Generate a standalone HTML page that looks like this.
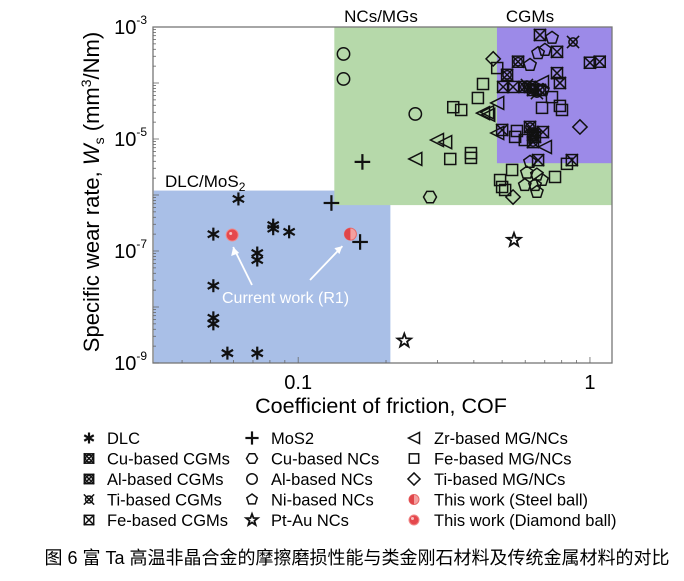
<!DOCTYPE html>
<html><head><meta charset="utf-8">
<style>
html,body{margin:0;padding:0;background:#fff;}
body{width:684px;height:581px;overflow:hidden;font-family:"Liberation Sans","Noto Sans CJK SC",sans-serif;}
svg{display:block;}
</style></head>
<body>
<svg id="chart" width="684" height="581" viewBox="0 0 684 581" xmlns="http://www.w3.org/2000/svg" font-family="Liberation Sans, Noto Sans CJK SC, sans-serif">
<g id="regions"></g>
<g id="axes"></g>
<g id="marks"></g>
<g id="legend"></g>
<text x="357" y="564" font-size="18" text-anchor="middle" font-family="Liberation Sans, Noto Sans CJK SC, sans-serif">图 6 富 Ta 高温非晶合金的摩擦磨损性能与类金刚石材料及传统金属材料的对比</text>
</svg>
<script>
// ---- data ----
const xTicks = [0.1, 1];
const xTickLabels = ["0.1", "1"];
const yTicks = [1e-9, 1e-7, 1e-5, 1e-3];
const yTickExps = ["-9", "-7", "-5", "-3"];
const regionNames = ["DLC/MoS2", "NCs/MGs", "CGMs"];
const regionX0 = [0.032, 0.133, 0.48];
const regionX1 = [0.207, 1.2, 1.2];
const regionY0 = [1e-9, 6.6e-7, 3.7e-6];
const regionY1 = [1.2e-6, 1e-3, 1e-3];

const dlcX = [0.0624, 0.0512, 0.0821, 0.0821, 0.0931, 0.0724, 0.0724, 0.0512, 0.0512, 0.0512, 0.0572, 0.0724];
const dlcY = [8.5e-7, 2.0e-7, 2.9e-7, 2.5e-7, 2.2e-7, 9.2e-8, 6.9e-8, 2.4e-8, 6.4e-9, 5.0e-9, 1.5e-9, 1.5e-9];
const mos2X = [0.166, 0.130, 0.163];
const mos2Y = [3.9e-6, 7.2e-7, 1.45e-7];
const cuNcX = [0.283];
const cuNcY = [9.2e-7];
const alNcX = [0.143, 0.143, 0.252];
const alNcY = [3.3e-4, 1.18e-4, 2.8e-5];
const niNcX = [0.741, 0.664, 0.701, 0.623, 0.690, 0.623, 0.608, 0.598, 0.658, 0.658, 0.648, 0.685];
const niNcY = [6.4e-4, 3.4e-4, 3.9e-4, 2.1e-4, 7.5e-5, 3.9e-6, 2.5e-6, 1.5e-6, 2.3e-6, 1.13e-6, 1.5e-6, 1.85e-6];
const ptAuX = [0.231, 0.549];
const ptAuY = [2.5e-9, 1.57e-7];
const zrX = [0.252, 0.299, 0.319, 0.430, 0.444, 0.481, 0.481, 0.701, 0.685, 0.448];
const zrY = [4.4e-6, 9.6e-6, 8.8e-6, 2.9e-5, 3.0e-5, 4.4e-5, 1.28e-5, 7.2e-6, 1.04e-4, 2.7e-5];
const feMgX = [0.430, 0.413, 0.340, 0.362, 0.332, 0.391, 0.391, 0.481, 0.541, 0.492, 0.500, 0.512, 0.562, 0.554, 0.685, 0.741, 0.789, 0.802, 0.759, 0.834, 0.598];
const feMgY = [9.6e-5, 5.4e-5, 3.7e-5, 3.3e-5, 4.4e-6, 5.6e-6, 4.6e-6, 1.85e-4, 2.8e-6, 1.85e-6, 1.39e-6, 1.23e-6, 1.39e-5, 1.09e-5, 3.6e-5, 5.6e-5, 3.9e-5, 3.3e-5, 2.1e-6, 3.6e-6, 9.6e-6];
const tiMgX = [0.924, 0.466, 0.545];
const tiMgY = [1.64e-5, 2.7e-4, 9.2e-7];
const feCgmX = [0.674, 0.771, 0.771, 0.789, 0.504, 0.545, 1.0, 1.08, 0.664, 0.867, 0.690, 0.500];
const feCgmY = [7.2e-4, 3.6e-4, 1.5e-4, 1.0e-4, 8.5e-5, 8.5e-5, 2.3e-4, 2.4e-4, 4.2e-6, 4.2e-6, 1.33e-5, 1.45e-5];
const cuCgmX = [0.520, 0.567, 0.598, 0.638, 0.623, 0.638, 0.638];
const cuCgmY = [1.4e-4, 2.4e-4, 8.5e-5, 7.5e-5, 1.64e-5, 1.18e-5, 8.8e-6];
const tiCgmX = [0.875, 0.608, 0.658, 0.638];
const tiCgmY = [5.4e-4, 9.2e-5, 6.6e-5, 1.33e-5];
const alCgmX = [0.623, 0.674, 0.648];
const alCgmY = [8.5e-5, 7.5e-5, 1.09e-5];
const steelX = [0.151];
const steelY = [2.0e-7];
const diamondX = [0.0594];
const diamondY = [1.93e-7];

const legendLabels = ["DLC","Cu-based CGMs","Al-based CGMs","Ti-based CGMs","Fe-based CGMs","MoS2","Cu-based NCs","Al-based NCs","Ni-based NCs","Pt-Au NCs","Zr-based MG/NCs","Fe-based MG/NCs","Ti-based MG/NCs","This work (Steel ball)","This work (Diamond ball)"];
const legendTypes = ["ast","cubox","albox","tix","febox","plus","hex","circ","pent","star","tri","sq","dia","steel","diamond"];

// ---- geometry ----
const L=153, R=612, T=27, B=363;
const xMinLog=Math.log10(0.0318), xMaxLog=Math.log10(1.19);
const yMinLog=-9, yMaxLog=-3;
function sx(v){return L+(Math.log10(v)-xMinLog)/(xMaxLog-xMinLog)*(R-L);}
function sy(v){return B-(Math.log10(v)-yMinLog)/(yMaxLog-yMinLog)*(B-T);}
const NS="http://www.w3.org/2000/svg";
function mk(tag,attrs,parent){const e=document.createElementNS(NS,tag);for(const k in attrs)e.setAttribute(k,attrs[k]);parent.appendChild(e);return e;}

const regionG=document.getElementById('regions');
const regionColors=["#a9bfe7","#b6d9aa","#9c8ae8"];
for(let i=0;i<regionNames.length;i++){
  const x0=sx(regionX0[i]), x1=Math.min(R,sx(regionX1[i])), y0=sy(regionY1[i]), y1=sy(regionY0[i]);
  const r=mk('rect',{x:Math.max(L,x0),y:Math.max(T,y0),width:x1-Math.max(L,x0),height:Math.min(B,y1)-Math.max(T,y0),fill:regionColors[i]},regionG);
  
  
}
(function(){
  const t1=mk('text',{x:381,y:22,'font-size':17,'text-anchor':'middle'},regionG);t1.textContent="NCs/MGs";
  
  const t2=mk('text',{x:530,y:22,'font-size':17,'text-anchor':'middle'},regionG);t2.textContent="CGMs";
  
  const t3=mk('text',{x:165,y:187,'font-size':17},regionG);t3.innerHTML='DLC/MoS<tspan font-size="12" dy="4">2</tspan>';
  
})();

// axes
const axG=document.getElementById('axes');
const frame=mk('rect',{x:L,y:T,width:R-L,height:B-T,fill:'none',stroke:'#777','stroke-width':1.3},axG);

for(let d=-9;d<-3;d++){for(let m=1;m<10;m++){const y=sy(m*Math.pow(10,d));const len=(m==1)?6:3;mk('line',{x1:L,x2:L+len,y1:y,y2:y,stroke:'#666','stroke-width':0.8},axG);}}
for(let d=-2;d<=0;d++){for(let m=1;m<10;m++){const v=m*Math.pow(10,d);if(v<0.0318||v>1.19)continue;const x=sx(v);const len=(m==1)?6:3;mk('line',{x1:x,x2:x,y1:B,y2:B-len,stroke:'#666','stroke-width':0.8},axG);}}
for(let i=0;i<yTicks.length;i++){
  const t=mk('text',{x:L-6,y:sy(yTicks[i])+7,'font-size':20,'text-anchor':'end'},axG);
  t.innerHTML='10<tspan font-size="12" dy="-10">'+yTickExps[i]+'</tspan>';
  
}
for(let i=0;i<xTicks.length;i++){
  const t=mk('text',{x:sx(xTicks[i]),y:B+26,'font-size':20,'text-anchor':'middle'},axG);
  t.textContent=xTickLabels[i];
  
}
const xt=mk('text',{x:381,y:413,'font-size':21.5,'text-anchor':'middle'},axG);xt.textContent="Coefficient of friction, COF";

const yt=mk('text',{x:0,y:0,'font-size':22,'text-anchor':'middle',transform:'translate(99,192) rotate(-90)'},axG);
yt.innerHTML='Specific wear rate, <tspan font-style="italic">W</tspan><tspan font-size="14" dy="5">s</tspan><tspan dy="-5"> (mm</tspan><tspan font-size="14" dy="-8">3</tspan><tspan dy="8">/Nm)</tspan>';


// markers
const ST='#111';
function marker(type,cx,cy,g,s){
  s=s||6.5;const sw=1.5;
  const a={fill:'none',stroke:ST,'stroke-width':sw};
  if(type==='ast'){for(const ang of [90,30,150]){const r=ang*Math.PI/180;mk('line',{x1:cx-s*Math.cos(r),y1:cy-s*Math.sin(r),x2:cx+s*Math.cos(r),y2:cy+s*Math.sin(r),stroke:ST,'stroke-width':2.2},g);}}
  else if(type==='plus'){mk('line',{x1:cx-s*1.2,x2:cx+s*1.2,y1:cy,y2:cy,stroke:ST,'stroke-width':2.2},g);mk('line',{x1:cx,x2:cx,y1:cy-s*1.2,y2:cy+s*1.2,stroke:ST,'stroke-width':2.2},g);}
  else if(type==='circ'){mk('circle',Object.assign({cx,cy,r:s*0.95},a),g);}
  else if(type==='hex'||type==='pent'){const n=type==='hex'?6:5;let p=[];for(let k=0;k<n;k++){const r=(-90+360*k/n+(n==6?30:0))*Math.PI/180;p.push((cx+s*Math.cos(r)).toFixed(1)+','+(cy+s*Math.sin(r)).toFixed(1));}mk('polygon',Object.assign({points:p.join(' ')},a),g);}
  else if(type==='star'){let p=[];for(let k=0;k<10;k++){const rr=k%2?s*0.45:s*1.1;const r=(-90+36*k)*Math.PI/180;p.push((cx+rr*Math.cos(r)).toFixed(1)+','+(cy+rr*Math.sin(r)).toFixed(1));}mk('polygon',Object.assign({points:p.join(' ')},a,{'stroke-width':1.8}),g);}
  else if(type==='tri'){mk('polygon',Object.assign({points:`${cx-s},${cy} ${cx+s},${cy-s} ${cx+s},${cy+s}`},a),g);}
  else if(type==='sq'){mk('rect',Object.assign({x:cx-s*0.85,y:cy-s*0.85,width:s*1.7,height:s*1.7},a),g);}
  else if(type==='dia'){mk('polygon',Object.assign({points:`${cx},${cy-s*1.1} ${cx+s*1.1},${cy} ${cx},${cy+s*1.1} ${cx-s*1.1},${cy}`},a),g);}
  else if(type==='febox'||type==='cubox'||type==='albox'||type==='tix'){
    const h=s*0.85;
    if(type!=='tix')mk('rect',Object.assign({x:cx-h,y:cy-h,width:2*h,height:2*h},a),g);
    mk('line',{x1:cx-h*1.1,y1:cy-h*1.1,x2:cx+h*1.1,y2:cy+h*1.1,stroke:ST,'stroke-width':sw},g);
    mk('line',{x1:cx+h*1.1,y1:cy-h*1.1,x2:cx-h*1.1,y2:cy+h*1.1,stroke:ST,'stroke-width':sw},g);
    if(type==='cubox'||type==='tix'||type==='albox')mk('circle',Object.assign({cx,cy,r:h*0.75},a),g);
  }
  else if(type==='steel'){mk('circle',{cx,cy,r:s,fill:'#f4a0a0',stroke:'#e86a6a','stroke-width':1},g);mk('path',{d:`M${cx},${cy-s} A${s},${s} 0 0 0 ${cx},${cy+s} Z`,fill:'#e0464a'},g);}
  else if(type==='diamond'){mk('circle',{cx,cy,r:s,fill:'#e5484d',stroke:'#f08a8a','stroke-width':1},g);mk('circle',{cx:cx-1.5,cy:cy-1.5,r:1.5,fill:'#f8c0c0'},g);}
}
const marksG=document.getElementById('marks');
const seriesX=[dlcX,mos2X,cuNcX,alNcX,niNcX,ptAuX,zrX,feMgX,tiMgX,feCgmX,cuCgmX,tiCgmX,alCgmX,steelX,diamondX];
const seriesY=[dlcY,mos2Y,cuNcY,alNcY,niNcY,ptAuY,zrY,feMgY,tiMgY,feCgmY,cuCgmY,tiCgmY,alCgmY,steelY,diamondY];
const seriesT=["ast","plus","hex","circ","pent","star","tri","sq","dia","febox","cubox","tix","albox","steel","diamond"];
const seriesN=["dlc","mos2","cu-nc","al-nc","ni-nc","pt-au-nc","zr-mg","fe-mg","ti-mg","fe-cgm","cu-cgm","ti-cgm","al-cgm","this-work-steel","this-work-diamond"];
for(let s=0;s<seriesX.length;s++){
  for(let i=0;i<seriesX[s].length;i++){
    const g=mk('g',{},marksG);
    
    
    marker(seriesT[s],sx(seriesX[s][i]),sy(seriesY[s][i]),g,(seriesT[s]==='steel'||seriesT[s]==='diamond')?6:undefined);
  }
}
(function(){
  const g=mk('g',{},marksG);
  
  const t=mk('text',{x:222,y:303,'font-size':16,fill:'#fff'},g);t.textContent="Current work (R1)";
  const ax1=sx(diamondX[0])+1, ay1=sy(diamondY[0])+12, ax2=sx(steelX[0])-8, ay2=sy(steelY[0])+12;
  mk('line',{x1:252,y1:285,x2:ax1,y2:ay1,stroke:'#fff','stroke-width':1.8},g);
  mk('polygon',{points:`${ax1},${ay1} ${ax1-2},${ay1+9} ${ax1+6},${ay1+6}`,fill:'#fff'},g);
  mk('line',{x1:310,y1:280,x2:ax2,y2:ay2,stroke:'#fff','stroke-width':1.8},g);
  mk('polygon',{points:`${ax2},${ay2} ${ax2-8},${ay2+2} ${ax2-3},${ay2+8}`,fill:'#fff'},g);
})();
// legend
const legG=document.getElementById('legend');
const colMX=[89,252,414], colTX=[107,271,434];
for(let i=0;i<legendLabels.length;i++){
  const c=Math.floor(i/5), r=i%5, y=438+r*20.5;
  const g=mk('g',{},legG);
  
  
  marker(legendTypes[i],colMX[c],y,g,legendTypes[i]==='steel'||legendTypes[i]==='diamond'?5:5.5);
  const t=mk('text',{x:colTX[c],y:y+6,'font-size':16.5},g);t.textContent=legendLabels[i];
}
</script>
</body></html>
